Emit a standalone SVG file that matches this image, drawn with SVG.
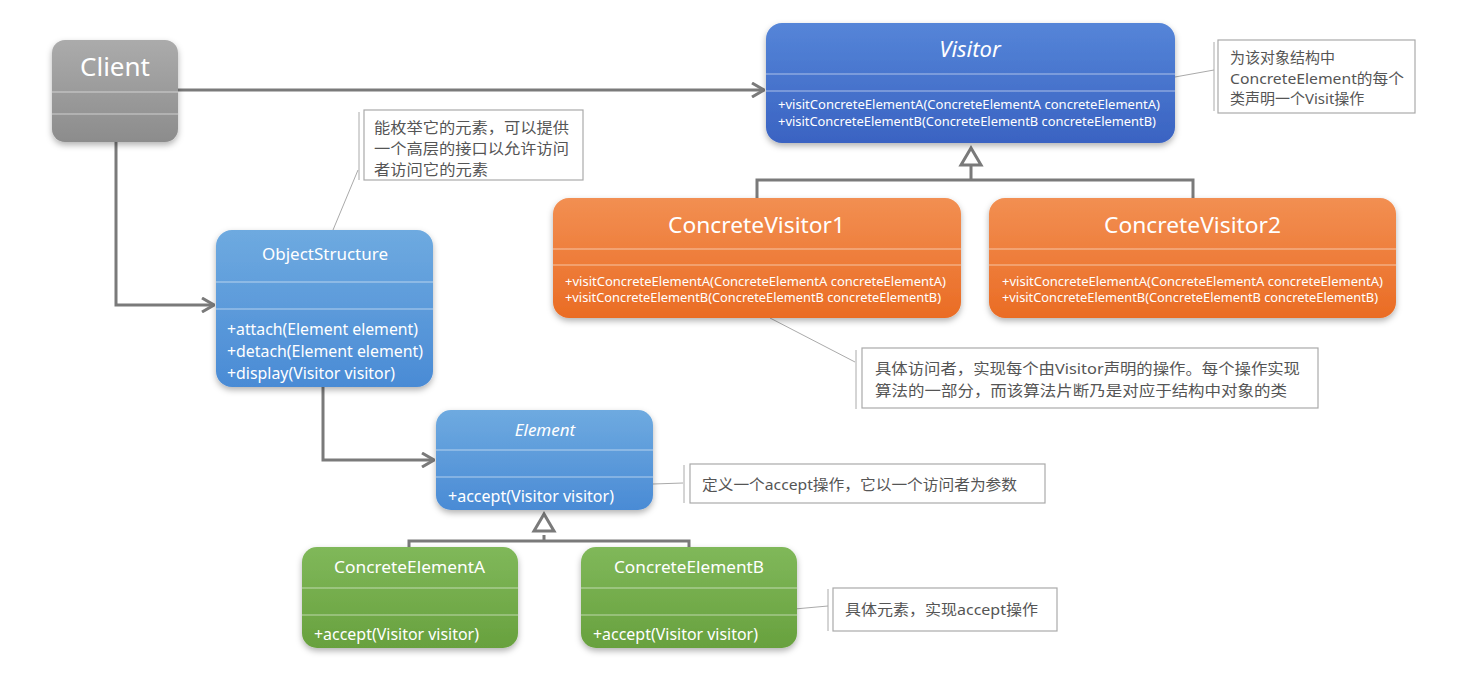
<svg xmlns="http://www.w3.org/2000/svg" width="1460" height="699" viewBox="0 0 1460 699">
<defs>
<linearGradient id="gGray" x1="0" y1="0" x2="0" y2="1"><stop offset="0" stop-color="#ababab"/><stop offset="1" stop-color="#8c8c8c"/></linearGradient>
<linearGradient id="gBlue" x1="0" y1="0" x2="0" y2="1"><stop offset="0" stop-color="#5585d8"/><stop offset="1" stop-color="#3a63c2"/></linearGradient>
<linearGradient id="gOrange" x1="0" y1="0" x2="0" y2="1"><stop offset="0" stop-color="#f28f52"/><stop offset="1" stop-color="#ea6c24"/></linearGradient>
<linearGradient id="gLight" x1="0" y1="0" x2="0" y2="1"><stop offset="0" stop-color="#6eaae0"/><stop offset="1" stop-color="#4a8bd5"/></linearGradient>
<linearGradient id="gGreen" x1="0" y1="0" x2="0" y2="1"><stop offset="0" stop-color="#80b85a"/><stop offset="1" stop-color="#68a13e"/></linearGradient>
<filter id="sh" x="-10%" y="-10%" width="120%" height="130%"><feDropShadow dx="0" dy="3" stdDeviation="3" flood-color="#000" flood-opacity="0.3"/></filter>
<marker id="open" viewBox="0 0 14 16" refX="13" refY="8" markerWidth="14" markerHeight="16" markerUnits="userSpaceOnUse" orient="auto"><path d="M1,1 L13,8 L1,15" fill="none" stroke="#7a7a7a" stroke-width="3"/></marker>
</defs>
<style>
.t{font-family:"Noto Sans","Noto Sans CJK SC",sans-serif;fill:#fff}
.n{font-family:"Noto Sans","Noto Sans CJK SC",sans-serif;fill:#555;font-size:15px}
.sep{stroke:#ffffff;stroke-opacity:0.55;stroke-width:1}
.edge{fill:none;stroke:#7a7a7a;stroke-width:3}
.nb{fill:#fff;stroke:#aaaaaa;stroke-width:1.2}
.nl{fill:none;stroke:#aaaaaa;stroke-width:1}
.tri{fill:#fff;stroke:#7a7a7a;stroke-width:3}
</style>
<rect width="1460" height="699" fill="#fff"/>

<g id="connectors">
<path class="edge" d="M178,90 L764,90" marker-end="url(#open)"/>
<path class="edge" d="M116,142 L116,305 L214,305" marker-end="url(#open)"/>
<path class="edge" d="M323,387 L323,460 L434,460" marker-end="url(#open)"/>
<path class="edge" d="M971,165 L971,180 M757,198 L757,180 L1193,180 L1193,198"/>
<polygon class="tri" points="971,148 961,165 981,165"/>
<path class="edge" d="M544,535 L544,541 M409,548 L409,541 L689,541 L689,548"/>
<polygon class="tri" points="544,514 534,531 554,531"/>
<path class="nl" d="M1175,77 L1214,70"/>
<path class="nl" d="M333,230 L358,170"/>
<path class="nl" d="M770,318 L855,362"/>
<path class="nl" d="M653,484 L683,483"/>
<path class="nl" d="M750,613 L828,606"/>
</g>

<g id="Client">
<rect x="52" y="40" width="126" height="102" rx="13" fill="url(#gGray)" filter="url(#sh)"/>
<line class="sep" x1="52" y1="92" x2="178" y2="92"/>
<line class="sep" x1="52" y1="114" x2="178" y2="114"/>
<text class="t" x="115" y="76" font-size="26" text-anchor="middle">Client</text>
</g>

<g id="Visitor">
<rect x="766" y="23" width="409" height="120" rx="16" fill="url(#gBlue)" filter="url(#sh)"/>
<line class="sep" x1="766" y1="74" x2="1175" y2="74"/>
<line class="sep" x1="766" y1="91" x2="1175" y2="91"/>
<text class="t" x="970" y="57" font-size="22" font-style="italic" text-anchor="middle">Visitor</text>
<text class="t" x="778" y="109" font-size="13" textLength="382" lengthAdjust="spacingAndGlyphs">+visitConcreteElementA(ConcreteElementA concreteElementA)</text>
<text class="t" x="778" y="126" font-size="13" textLength="378" lengthAdjust="spacingAndGlyphs">+visitConcreteElementB(ConcreteElementB concreteElementB)</text>
</g>

<g id="VisitorNote">
<rect class="nb" x="1218" y="40" width="197" height="73"/>
<line class="nl" x1="1214" y1="42" x2="1214" y2="111"/>
<text class="n" x="1230" y="63">为该对象结构中</text>
<text class="n" x="1230" y="84" textLength="174" lengthAdjust="spacingAndGlyphs">ConcreteElement的每个</text>
<text class="n" x="1230" y="104">类声明一个Visit操作</text>
</g>

<g id="ConcreteVisitor1">
<rect x="553" y="198" width="408" height="120" rx="16" fill="url(#gOrange)" filter="url(#sh)"/>
<line class="sep" x1="553" y1="249" x2="961" y2="249"/>
<line class="sep" x1="553" y1="265" x2="961" y2="265"/>
<text class="t" x="668" y="233" font-size="22" textLength="177" lengthAdjust="spacingAndGlyphs">ConcreteVisitor1</text>
<text class="t" x="565" y="286" font-size="13" textLength="381" lengthAdjust="spacingAndGlyphs">+visitConcreteElementA(ConcreteElementA concreteElementA)</text>
<text class="t" x="565" y="302" font-size="13" textLength="376" lengthAdjust="spacingAndGlyphs">+visitConcreteElementB(ConcreteElementB concreteElementB)</text>
</g>

<g id="ConcreteVisitor2">
<rect x="989" y="198" width="407" height="120" rx="16" fill="url(#gOrange)" filter="url(#sh)"/>
<line class="sep" x1="989" y1="249" x2="1396" y2="249"/>
<line class="sep" x1="989" y1="265" x2="1396" y2="265"/>
<text class="t" x="1104" y="233" font-size="22" textLength="177" lengthAdjust="spacingAndGlyphs">ConcreteVisitor2</text>
<text class="t" x="1002" y="286" font-size="13" textLength="381" lengthAdjust="spacingAndGlyphs">+visitConcreteElementA(ConcreteElementA concreteElementA)</text>
<text class="t" x="1002" y="302" font-size="13" textLength="376" lengthAdjust="spacingAndGlyphs">+visitConcreteElementB(ConcreteElementB concreteElementB)</text>
</g>

<g id="VisitorImplNote">
<rect class="nb" x="862" y="348" width="456" height="60"/>
<line class="nl" x1="856" y1="350" x2="856" y2="409"/>
<text class="n" x="875" y="374" textLength="425" lengthAdjust="spacingAndGlyphs">具体访问者，实现每个由Visitor声明的操作。每个操作实现</text>
<text class="n" x="875" y="396" textLength="412" lengthAdjust="spacingAndGlyphs">算法的一部分，而该算法片断乃是对应于结构中对象的类</text>
</g>

<g id="ObjectStructure">
<rect x="216" y="230" width="217" height="157" rx="16" fill="url(#gLight)" filter="url(#sh)"/>
<line class="sep" x1="216" y1="282" x2="433" y2="282"/>
<line class="sep" x1="216" y1="309" x2="433" y2="309"/>
<text class="t" x="325" y="260" font-size="17" text-anchor="middle">ObjectStructure</text>
<text class="t" x="227" y="335" font-size="16" textLength="191" lengthAdjust="spacingAndGlyphs">+attach(Element element)</text>
<text class="t" x="227" y="357" font-size="16" textLength="196" lengthAdjust="spacingAndGlyphs">+detach(Element element)</text>
<text class="t" x="227" y="379" font-size="16" textLength="168" lengthAdjust="spacingAndGlyphs">+display(Visitor visitor)</text>
</g>

<g id="ObjectStructureNote">
<rect class="nb" x="364" y="110" width="219" height="70"/>
<line class="nl" x1="359" y1="112" x2="359" y2="180"/>
<text class="n" x="374" y="133" textLength="195" lengthAdjust="spacingAndGlyphs">能枚举它的元素，可以提供</text>
<text class="n" x="374" y="154" textLength="195" lengthAdjust="spacingAndGlyphs">一个高层的接口以允许访问</text>
<text class="n" x="374" y="175" textLength="114" lengthAdjust="spacingAndGlyphs">者访问它的元素</text>
</g>

<g id="Element">
<rect x="436" y="410" width="217" height="100" rx="15" fill="url(#gLight)" filter="url(#sh)"/>
<line class="sep" x1="436" y1="450" x2="653" y2="450"/>
<line class="sep" x1="436" y1="477" x2="653" y2="477"/>
<text class="t" x="545" y="436" font-size="17" font-style="italic" text-anchor="middle">Element</text>
<text class="t" x="448" y="502" font-size="16" textLength="166" lengthAdjust="spacingAndGlyphs">+accept(Visitor visitor)</text>
</g>

<g id="ElementNote">
<rect class="nb" x="690" y="464" width="355" height="39"/>
<line class="nl" x1="684" y1="465" x2="684" y2="503"/>
<text class="n" x="702" y="490" textLength="315" lengthAdjust="spacingAndGlyphs">定义一个accept操作，它以一个访问者为参数</text>
</g>

<g id="ConcreteElementA">
<rect x="302" y="547" width="216" height="101" rx="15" fill="url(#gGreen)" filter="url(#sh)"/>
<line class="sep" x1="302" y1="588" x2="518" y2="588"/>
<line class="sep" x1="302" y1="615" x2="518" y2="615"/>
<text class="t" x="334" y="573" font-size="16" textLength="151" lengthAdjust="spacingAndGlyphs">ConcreteElementA</text>
<text class="t" x="314" y="640" font-size="16" textLength="165" lengthAdjust="spacingAndGlyphs">+accept(Visitor visitor)</text>
</g>

<g id="ConcreteElementB">
<rect x="581" y="547" width="216" height="101" rx="15" fill="url(#gGreen)" filter="url(#sh)"/>
<line class="sep" x1="581" y1="588" x2="797" y2="588"/>
<line class="sep" x1="581" y1="615" x2="797" y2="615"/>
<text class="t" x="614" y="573" font-size="16" textLength="150" lengthAdjust="spacingAndGlyphs">ConcreteElementB</text>
<text class="t" x="593" y="640" font-size="16" textLength="165" lengthAdjust="spacingAndGlyphs">+accept(Visitor visitor)</text>
</g>

<g id="ConcreteElementNote">
<rect class="nb" x="833" y="588" width="224" height="43"/>
<line class="nl" x1="828" y1="589" x2="828" y2="631"/>
<text class="n" x="845" y="615" textLength="193" lengthAdjust="spacingAndGlyphs">具体元素，实现accept操作</text>
</g>
</svg>
